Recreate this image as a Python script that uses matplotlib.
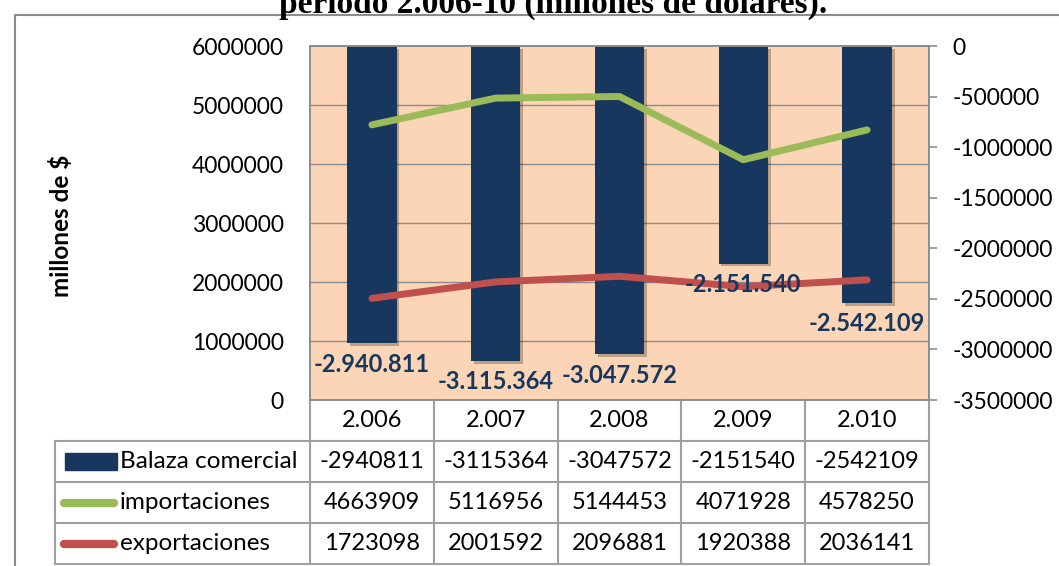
import matplotlib
matplotlib.use("Agg")
import matplotlib.pyplot as plt
import matplotlib.patheffects as pe
import matplotlib.transforms as mtransforms
from matplotlib.lines import Line2D
from matplotlib.patches import Rectangle
import numpy as np

years = ["2.006", "2.007", "2.008", "2.009", "2.010"]
balanza = [-2940811, -3115364, -3047572, -2151540, -2542109]
importaciones = [4663909, 5116956, 5144453, 4071928, 4578250]
exportaciones = [1723098, 2001592, 2096881, 1920388, 2036141]
series_names = ["Balaza comercial", "importaciones", "exportaciones"]
title = "período 2.006-10 (millones de dólares)."
ylabel = "millones de $"

NAVY = "#17375E"
GREEN = "#9BBB59"
RED = "#C0504D"
PEACH = "#FBD5B5"
GRID = "#8C8C8C"
TABLE = "#A0A0A0"

plt.rcParams["font.family"] = ["Lato", "DejaVu Sans"]

W, H = 1059, 566
fig = plt.figure(figsize=(W / 100, H / 100), dpi=100)


def fx(px):
    return px / W


def fy(py):
    return 1 - py / H


# plot area in pixels
left, right, top, bottom = 310, 929, 46, 400
fs = 16.5
tfs = 17

ax2 = fig.add_axes([fx(left), fy(bottom), fx(right - left), (bottom - top) / H])
ax = ax2.twinx()
ax.yaxis.tick_left()
ax2.yaxis.tick_right()
ax.set_zorder(2)
ax2.set_zorder(1)
ax.patch.set_visible(False)
ax2.patch.set_visible(True)
ax2.set_facecolor(PEACH)

x = np.arange(len(years))
ax2.set_xlim(-0.5, len(years) - 0.5)
ax.set_xlim(-0.5, len(years) - 0.5)

# left scale (lines)
lmax = 6000000
ax.set_ylim(0, lmax)
left_ticks = np.arange(0, lmax + 1, 1000000)
ax.set_yticks(left_ticks)
ax.yaxis.set_major_formatter(lambda v, p: f"{int(v)}")
ax.tick_params(axis="y", length=0, pad=19, labelsize=fs)
ax.set_xticks([])

# right scale (bars)
rmin = -3500000
ax2.set_ylim(rmin, 0)
ax2.set_yticks(np.arange(rmin, 1, 500000))
ax2.yaxis.set_major_formatter(lambda v, p: f"{int(v)}")
ax2.tick_params(axis="y", length=6, width=1.2, color=GRID, pad=11, labelsize=fs)
ax2.set_xticks([])

# gridlines follow the left scale, drawn under the bars
grid_pos = rmin + left_ticks / lmax * (0 - rmin)
ax2.set_yticks(grid_pos, minor=True)
ax2.tick_params(axis="y", which="minor", length=0)
ax2.grid(True, which="minor", axis="y", color=GRID, lw=1)
ax2.set_axisbelow(True)

for a in (ax, ax2):
    for s in a.spines.values():
        s.set_color(GRID)
        s.set_linewidth(1.2)

bars = ax2.bar(x, balanza, width=0.4, color=NAVY, zorder=2)
for b in bars:
    b.set_path_effects([pe.SimplePatchShadow(offset=(2, -2), shadow_rgbFace="k", alpha=0.25), pe.Normal()])

ax.plot(x, importaciones, color=GREEN, lw=5, solid_capstyle="round", solid_joinstyle="round", zorder=3)
ax.plot(x, exportaciones, color=RED, lw=5, solid_capstyle="round", solid_joinstyle="round", zorder=3)

for xi, v in zip(x, balanza):
    lab = f"{v:,}".replace(",", ".")
    ax.annotate(lab, xy=(xi, v), xycoords=ax2.transData, xytext=(0, -15),
                textcoords="offset points", ha="center", va="center",
                fontsize=17, fontweight="bold", color=NAVY, zorder=5)

# data table under the plot
tr = mtransforms.blended_transform_factory(ax.transData, fig.transFigure)
ftr = fig.transFigure
row_edges = [400, 441, 482, 523, 564]
leg_left = 55

for r in row_edges[1:]:
    fig.add_artist(Line2D([fx(leg_left), fx(right)], [fy(r), fy(r)], color=TABLE, lw=1.5, transform=ftr))
for e in np.arange(len(years) + 1) - 0.5:
    fig.add_artist(Line2D([e, e], [fy(row_edges[0]), fy(row_edges[-1])], color=TABLE, lw=1.5, transform=tr))
fig.add_artist(Line2D([fx(leg_left)] * 2, [fy(row_edges[1]), fy(row_edges[-1])], color=TABLE, lw=1.5, transform=ftr))

for xi, yr in zip(x, years):
    fig.text(xi, fy((row_edges[0] + row_edges[1]) / 2), yr, transform=tr, ha="center", va="center", fontsize=tfs)

rows = [balanza, importaciones, exportaciones]
for i, (name, vals) in enumerate(zip(series_names, rows)):
    yc = fy((row_edges[i + 1] + row_edges[i + 2]) / 2)
    for xi, v in zip(x, vals):
        fig.text(xi, yc, str(v), transform=tr, ha="center", va="center", fontsize=tfs)
    fig.text(fx(120), yc, name, ha="left", va="center", fontsize=17.5)

# legend keys inside the table
y1 = (row_edges[1] + row_edges[2]) / 2
fig.add_artist(Rectangle((fx(65), fy(y1 + 8)), fx(52), 17 / H, color=NAVY, transform=ftr))
for i, c in zip((2, 3), (GREEN, RED)):
    yc = fy((row_edges[i] + row_edges[i + 1]) / 2)
    fig.add_artist(Line2D([fx(64), fx(114)], [yc, yc], color=c, lw=6, solid_capstyle="round", transform=ftr))

# outer chart frame
fig.add_artist(Line2D([fx(15), fx(15), 1], [0, fy(15), fy(15)], color=GRID, lw=1.5, transform=ftr))

fig.text(fx(61), fy(226), ylabel, rotation=90, ha="center", va="center", fontsize=17.5, fontweight="bold")
fig.text(fx(553), fy(13), title, ha="center", va="baseline", fontsize=24, fontweight="bold",
         family=["Liberation Serif", "DejaVu Serif"])

fig.savefig("out.png", dpi=100)
